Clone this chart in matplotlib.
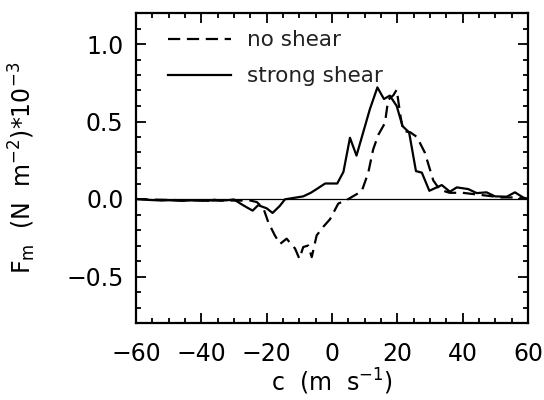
import matplotlib
matplotlib.use("Agg")
import matplotlib.pyplot as plt
from matplotlib.ticker import MultipleLocator

plt.rcParams['font.family'] = ['DejaVu Sans']
plt.rcParams['mathtext.fontset'] = 'dejavusans'

# strong shear (solid)
c_strong = [-60, -58, -56, -54, -52, -50, -48, -46, -44, -42, -40, -38, -36, -34, -32, -30,
            -28, -26, -24.3, -22.6, -20, -18.2, -16, -14.4, -12, -8.8, -6.5, -4.7, -2.1, 1.6,
            3.5, 5.5, 7.5, 11.6, 13.9, 15.9, 17.7, 19.8, 21.6, 23.6, 25.7, 27.5, 29.8, 33.6,
            36.1, 38.2, 41.7, 44.3, 47.3, 49.9, 53.5, 56, 58.5, 60]
f_strong = [0.0, -0.003, -0.006, -0.008, -0.01, -0.008, -0.01, -0.012, -0.01, -0.008, -0.01,
            -0.012, -0.005, -0.01, -0.008, -0.003, -0.03, -0.055, -0.075, -0.04, -0.06, -0.09,
            -0.045, -0.002, 0.006, 0.017, 0.04, 0.064, 0.10, 0.10, 0.175, 0.395, 0.28, 0.58,
            0.72, 0.645, 0.667, 0.60, 0.47, 0.43, 0.18, 0.17, 0.053, 0.09, 0.047, 0.075, 0.064,
            0.038, 0.043, 0.017, 0.015, 0.043, 0.01, 0.0]

# no shear (dashed)
c_none = [-60, -55, -50, -45, -40, -35, -30, -25, -23, -21, -19.5, -17.5, -15.9, -13.9, -11.3,
          -10, -8.8, -7.3, -6.2, -4.7, -2.7, -0.6, 1.9, 5, 9.1, 11.1, 12.6, 14.2, 16.2, 17.2,
          18.8, 19.8, 21, 21.8, 24, 26, 28.4, 31, 33, 36, 40, 44, 48, 52, 56, 60]
f_none = [0.0, -0.004, -0.006, -0.008, -0.01, -0.01, -0.01, -0.01, -0.02, -0.06, -0.15, -0.235,
          -0.29, -0.256, -0.32, -0.385, -0.31, -0.30, -0.375, -0.235, -0.18, -0.13, -0.03, 0.0,
          0.05, 0.17, 0.32, 0.415, 0.49, 0.64, 0.67, 0.705, 0.53, 0.44, 0.43, 0.40, 0.30, 0.12,
          0.06, 0.04, 0.04, 0.03, 0.02, 0.01, 0.01, 0.0]

fig = plt.figure(figsize=(5.44, 4.0), dpi=100)
ax = fig.add_axes([0.25, 0.1925, 0.7206, 0.775])

ax.axhline(0, color='black', lw=0.9)
ax.plot(c_none, f_none, color='black', lw=1.6, ls=(0, (5.5, 3)), label='no shear')
ax.plot(c_strong, f_strong, color='black', lw=1.6, ls='-', label='strong shear')

ax.set_xlim(-60, 60)
ax.set_ylim(-0.8, 1.2)
ax.xaxis.set_major_locator(MultipleLocator(20))
ax.xaxis.set_minor_locator(MultipleLocator(5))
ax.yaxis.set_major_locator(MultipleLocator(0.5))
ax.yaxis.set_minor_locator(MultipleLocator(0.1))
ax.tick_params(which='both', direction='in', top=True, right=True, width=1.3,
               labelsize=17)
ax.tick_params(axis='x', pad=14)
ax.tick_params(axis='y', pad=9)
ax.tick_params(which='major', length=7)
ax.tick_params(which='minor', length=3.5)
ax.set_xticks([-60, -40, -20, 0, 20, 40, 60])
ax.set_xticklabels(['\u221260', '\u221240', '\u221220', '0', '20', '40', '60'])
ax.set_yticks([-0.5, 0.0, 0.5, 1.0])
ax.set_yticklabels(['\u22120.5', '0.0', '0.5', '1.0'])
for s in ax.spines.values():
    s.set_linewidth(1.6)

ax.set_xlabel('c  (m  s$^{-1}$)', fontsize=17, labelpad=0)
ax.set_ylabel('F$_{\\rm m}$  (N  m$^{-2}$)*10$^{-3}$', fontsize=17)
ax.yaxis.set_label_coords(-0.25, 0.5)

leg = ax.legend(loc='upper left', frameon=False, fontsize=15.5, handlelength=2.9,
                handletextpad=0.75, labelspacing=0.75, borderaxespad=0.0, borderpad=0.0,
                bbox_to_anchor=(0.082, 0.945))
for t in leg.get_texts():
    t.set_color('#222222')

fig.savefig('out.png', dpi=100)
